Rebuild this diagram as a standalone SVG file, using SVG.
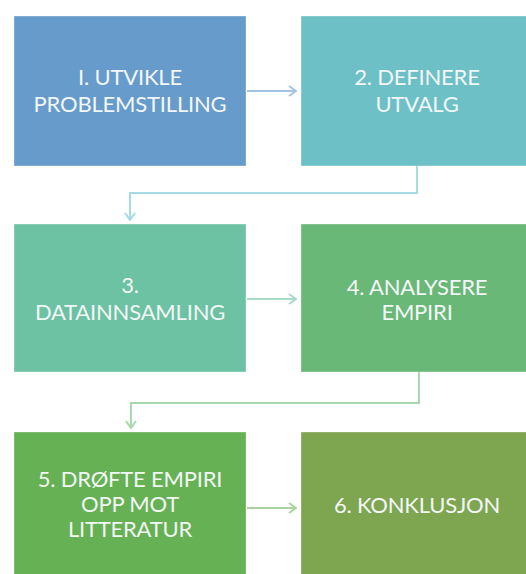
<svg xmlns="http://www.w3.org/2000/svg" width="526" height="574" viewBox="0 0 526 574">
  <defs>
    <style>
      .box { stroke: #ffffff; stroke-opacity: 0.35; stroke-width: 1; }
      .label { font-family: Lato, "Open Sans", "DejaVu Sans", sans-serif; font-size: 22px; letter-spacing: -0.2px; fill: #f3f7f7; text-anchor: middle; }
      .link { fill: none; stroke-width: 2; stroke-linejoin: miter; }
    </style>
    <marker id="chev-blue" viewBox="0 0 10 12" refX="9" refY="6" markerWidth="10" markerHeight="12" markerUnits="userSpaceOnUse" orient="auto">
      <path d="M2,1 L9,6 L2,11" fill="none" stroke="#a4c3e4" stroke-width="2"/>
    </marker>
    <marker id="chev-teal" viewBox="0 0 10 12" refX="9" refY="6" markerWidth="10" markerHeight="12" markerUnits="userSpaceOnUse" orient="auto">
      <path d="M2,1 L9,6 L2,11" fill="none" stroke="#a5dce1" stroke-width="2"/>
    </marker>
    <marker id="chev-mint" viewBox="0 0 10 12" refX="9" refY="6" markerWidth="10" markerHeight="12" markerUnits="userSpaceOnUse" orient="auto">
      <path d="M2,1 L9,6 L2,11" fill="none" stroke="#a6dbc6" stroke-width="2"/>
    </marker>
    <marker id="chev-green" viewBox="0 0 10 12" refX="9" refY="6" markerWidth="10" markerHeight="12" markerUnits="userSpaceOnUse" orient="auto">
      <path d="M2,1 L9,6 L2,11" fill="none" stroke="#a7d8ae" stroke-width="2"/>
    </marker>
    <marker id="chev-leaf" viewBox="0 0 10 12" refX="9" refY="6" markerWidth="10" markerHeight="12" markerUnits="userSpaceOnUse" orient="auto">
      <path d="M2,1 L9,6 L2,11" fill="none" stroke="#aad49f" stroke-width="2"/>
    </marker>
  </defs>

  <rect width="526" height="574" fill="#ffffff"/>

  <!-- connectors between the steps -->
  <g id="connectors">
    <path class="link" d="M247,91 H296" stroke="#a4c3e4" marker-end="url(#chev-blue)"/>
    <path class="link" d="M417,166 V193 H130 V220" stroke="#a5dce1" marker-end="url(#chev-teal)"/>
    <path class="link" d="M247,299 H296" stroke="#a6dbc6" marker-end="url(#chev-mint)"/>
    <path class="link" d="M419,372 V403 H131 V428" stroke="#a7d8ae" marker-end="url(#chev-green)"/>
    <path class="link" d="M247,508 H296" stroke="#aad49f" marker-end="url(#chev-leaf)"/>
  </g>

  <!-- step 1 -->
  <g id="step1">
    <rect class="box" x="14" y="16" width="232" height="150" fill="#669bcb"/>
    <text class="label" x="130" y="85">I. UTVIKLE</text>
    <text class="label" x="130" y="112">PROBLEMSTILLING</text>
  </g>

  <!-- step 2 -->
  <g id="step2">
    <rect class="box" x="301" y="16" width="232" height="150" fill="#6ec0c7"/>
    <text class="label" x="417" y="85">2. DEFINERE</text>
    <text class="label" x="417" y="112">UTVALG</text>
  </g>

  <!-- step 3 -->
  <g id="step3">
    <rect class="box" x="14" y="224" width="232" height="148" fill="#6cc2a2"/>
    <text class="label" x="130" y="293">3.</text>
    <text class="label" x="130" y="320">DATAINNSAMLING</text>
  </g>

  <!-- step 4 -->
  <g id="step4">
    <rect class="box" x="301" y="224" width="232" height="148" fill="#69b877"/>
    <text class="label" x="417" y="295">4. ANALYSERE</text>
    <text class="label" x="417" y="320">EMPIRI</text>
  </g>

  <!-- step 5 -->
  <g id="step5">
    <rect class="box" x="14" y="432" width="232" height="150" fill="#65b153"/>
    <text class="label" x="130" y="487">5. DRØFTE EMPIRI</text>
    <text class="label" x="130" y="512">OPP MOT</text>
    <text class="label" x="130" y="537">LITTERATUR</text>
  </g>

  <!-- step 6 -->
  <g id="step6">
    <rect class="box" x="301" y="432" width="232" height="150" fill="#7ea550"/>
    <text class="label" x="417" y="513">6. KONKLUSJON</text>
  </g>
</svg>
